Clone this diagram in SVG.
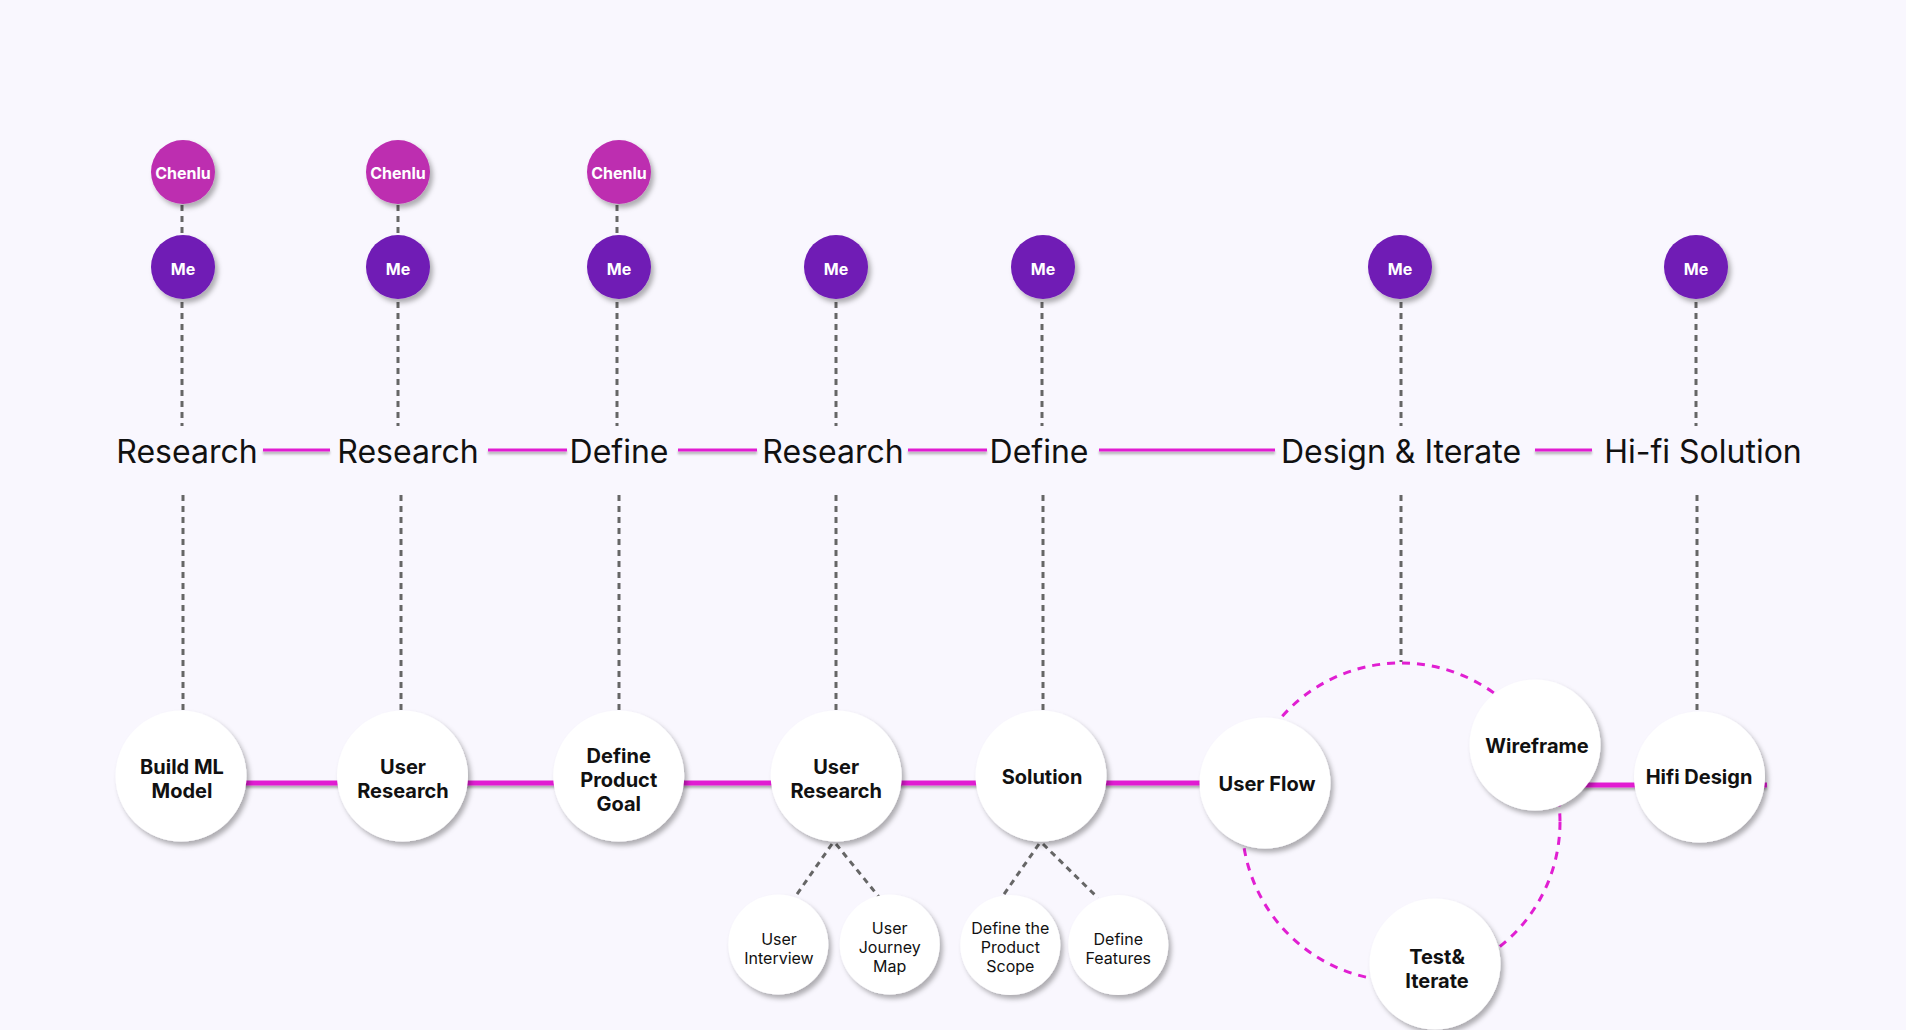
<svg xmlns="http://www.w3.org/2000/svg" width="1906" height="1030" viewBox="0 0 1906 1030">
<style>
text{font-family:Inter,"Liberation Sans",sans-serif;}
.bg{fill:#F9F7FE;}
.me{fill:#6F1AB5;filter:url(#sh);}
.ch{fill:#BD2EB0;filter:url(#sh);}
.av{fill:#fff;font-size:16px;font-weight:700;text-anchor:middle;}
.lab{fill:#111;font-size:32px;font-weight:400;text-anchor:middle;}
.node{fill:#fff;filter:url(#sh);}
.nt{fill:#111;font-size:20px;font-weight:700;text-anchor:middle;}
.st{fill:#111;font-size:16px;font-weight:400;text-anchor:middle;}
.dot{stroke:#666;stroke-width:3;stroke-dasharray:6 5;fill:none;}
.pk{stroke:#E11FD2;fill:none;}
.ring{stroke:#E11FD2;stroke-width:3;stroke-dasharray:8 7;fill:none;}
</style>
<defs>
<filter id="sh" x="-30%" y="-30%" width="160%" height="160%">
<feDropShadow dx="3" dy="4" stdDeviation="2.5" flood-color="#000" flood-opacity="0.3"/>
</filter>
<filter id="lsh" filterUnits="userSpaceOnUse" x="0" y="0" width="1906" height="1030">
<feDropShadow dx="0" dy="2.5" stdDeviation="1.2" flood-color="#000" flood-opacity="0.3"/>
</filter>
</defs>
<rect class="bg" x="0" y="0" width="1906" height="1030"/>

<g id="connectors">
<line class="dot" x1="182" y1="205" x2="182" y2="236"/>
<line class="dot" x1="398" y1="205" x2="398" y2="236"/>
<line class="dot" x1="617" y1="205" x2="617" y2="236"/>
<line class="dot" x1="182" y1="302" x2="182" y2="426"/>
<line class="dot" x1="398" y1="302" x2="398" y2="426"/>
<line class="dot" x1="617" y1="302" x2="617" y2="426"/>
<line class="dot" x1="836" y1="302" x2="836" y2="426"/>
<line class="dot" x1="1042" y1="302" x2="1042" y2="426"/>
<line class="dot" x1="1401" y1="302" x2="1401" y2="426"/>
<line class="dot" x1="1696" y1="302" x2="1696" y2="426"/>
<line class="dot" x1="183" y1="495" x2="183" y2="710"/>
<line class="dot" x1="401" y1="495" x2="401" y2="710"/>
<line class="dot" x1="619" y1="495" x2="619" y2="710"/>
<line class="dot" x1="836" y1="495" x2="836" y2="710"/>
<line class="dot" x1="1043" y1="495" x2="1043" y2="710"/>
<line class="dot" x1="1401" y1="495" x2="1401" y2="662"/>
<line class="dot" x1="1697" y1="495" x2="1697" y2="711"/>
<line class="dot" x1="832" y1="844" x2="795" y2="897"/>
<line class="dot" x1="836" y1="844" x2="879" y2="897"/>
<line class="dot" x1="1039" y1="844" x2="1002" y2="897"/>
<line class="dot" x1="1043" y1="844" x2="1098" y2="898"/>
<g filter="url(#lsh)">
<line class="pk" stroke-width="3" x1="263" y1="450" x2="330" y2="450"/>
<line class="pk" stroke-width="3" x1="488" y1="450" x2="567" y2="450"/>
<line class="pk" stroke-width="3" x1="678" y1="450" x2="757" y2="450"/>
<line class="pk" stroke-width="3" x1="908" y1="450" x2="987" y2="450"/>
<line class="pk" stroke-width="3" x1="1099" y1="450" x2="1275" y2="450"/>
<line class="pk" stroke-width="3" x1="1535" y1="450" x2="1592" y2="450"/>
<line class="pk" stroke-width="5" x1="181" y1="783" x2="1265" y2="783"/>
<line class="pk" stroke-width="5" x1="1536" y1="785" x2="1767" y2="785"/>
</g>
<circle class="ring" cx="1401" cy="822" r="159"/>
</g>

<g id="label-research-1"><text class="lab" x="187" y="462.5">Research</text></g>
<g id="label-research-2"><text class="lab" x="408" y="462.5">Research</text></g>
<g id="label-define-1"><text class="lab" x="619" y="462.5">Define</text></g>
<g id="label-research-3"><text class="lab" x="833" y="462.5">Research</text></g>
<g id="label-define-2"><text class="lab" x="1039" y="462.5">Define</text></g>
<g id="label-design-iterate"><text class="lab" x="1401" y="462.5">Design &amp; Iterate</text></g>
<g id="label-hifi-solution"><text class="lab" x="1703" y="462.5">Hi-fi Solution</text></g>

<g id="chenlu-1"><circle class="ch" cx="183" cy="172" r="32"/><text class="av" x="183" y="179">Chenlu</text></g>
<g id="chenlu-2"><circle class="ch" cx="398" cy="172" r="32"/><text class="av" x="398" y="179">Chenlu</text></g>
<g id="chenlu-3"><circle class="ch" cx="619" cy="172" r="32"/><text class="av" x="619" y="179">Chenlu</text></g>

<g id="me-1"><circle class="me" cx="183" cy="267" r="32"/><text class="av" x="183" y="275">Me</text></g>
<g id="me-2"><circle class="me" cx="398" cy="267" r="32"/><text class="av" x="398" y="275">Me</text></g>
<g id="me-3"><circle class="me" cx="619" cy="267" r="32"/><text class="av" x="619" y="275">Me</text></g>
<g id="me-4"><circle class="me" cx="836" cy="267" r="32"/><text class="av" x="836" y="275">Me</text></g>
<g id="me-5"><circle class="me" cx="1043" cy="267" r="32"/><text class="av" x="1043" y="275">Me</text></g>
<g id="me-6"><circle class="me" cx="1400" cy="267" r="32"/><text class="av" x="1400" y="275">Me</text></g>
<g id="me-7"><circle class="me" cx="1696" cy="267" r="32"/><text class="av" x="1696" y="275">Me</text></g>

<g id="node-build-ml-model"><circle class="node" cx="181" cy="776" r="65.5"/><text class="nt" x="182" y="773.5">Build ML</text><text class="nt" x="182" y="797.5">Model</text></g>
<g id="node-user-research-1"><circle class="node" cx="402.5" cy="776" r="65.5"/><text class="nt" x="403" y="773.5">User</text><text class="nt" x="403" y="797.5">Research</text></g>
<g id="node-define-product-goal"><circle class="node" cx="618.7" cy="776" r="65.5"/><text class="nt" x="618.7" y="762.5">Define</text><text class="nt" x="618.7" y="786.5">Product</text><text class="nt" x="618.7" y="810.5">Goal</text></g>
<g id="node-user-research-2"><circle class="node" cx="836.2" cy="776" r="65.5"/><text class="nt" x="836.2" y="773.5">User</text><text class="nt" x="836.2" y="797.5">Research</text></g>
<g id="node-solution"><circle class="node" cx="1041" cy="776" r="65.5"/><text class="nt" x="1042" y="783.5">Solution</text></g>
<g id="node-user-flow"><circle class="node" cx="1265" cy="783" r="65.5"/><text class="nt" x="1267" y="791">User Flow</text></g>
<g id="node-wireframe"><circle class="node" cx="1535" cy="745" r="65.5"/><text class="nt" x="1537" y="753">Wireframe</text></g>
<g id="node-hifi-design"><circle class="node" cx="1699.5" cy="777" r="65.5"/><text class="nt" x="1699" y="784">Hifi Design</text></g>
<g id="node-test-iterate"><circle class="node" cx="1435" cy="964" r="65.5"/><text class="nt" x="1437" y="963.5">Test&amp;</text><text class="nt" x="1437" y="987.5">Iterate</text></g>

<g id="sub-user-interview"><circle class="node" cx="778.3" cy="944.5" r="50"/><text class="st" x="779" y="945">User</text><text class="st" x="779" y="964">Interview</text></g>
<g id="sub-user-journey-map"><circle class="node" cx="889.7" cy="944.5" r="50"/><text class="st" x="889.7" y="933.5">User</text><text class="st" x="889.7" y="952.5">Journey</text><text class="st" x="889.7" y="971.5">Map</text></g>
<g id="sub-define-product-scope"><circle class="node" cx="1010.3" cy="945" r="50"/><text class="st" x="1010.3" y="933.5">Define the</text><text class="st" x="1010.3" y="952.5">Product</text><text class="st" x="1010.3" y="971.5">Scope</text></g>
<g id="sub-define-features"><circle class="node" cx="1118.3" cy="945" r="50"/><text class="st" x="1118.3" y="945">Define</text><text class="st" x="1118.3" y="964">Features</text></g>
</svg>
